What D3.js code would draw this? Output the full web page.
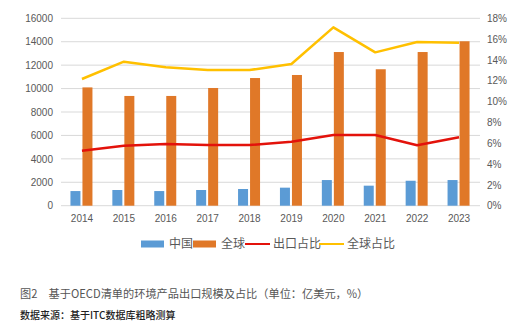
<!DOCTYPE html>
<html><head><meta charset="utf-8">
<script src="https://cdn.jsdelivr.net/npm/d3@7/dist/d3.min.js"></script>
<style>body{margin:0;background:#fff;}svg{display:block;}</style>
</head><body>
<svg id="c" width="524" height="334"></svg>
<script>
const years = ["2014","2015","2016","2017","2018","2019","2020","2021","2022","2023"];
const china = [1250,1340,1250,1340,1425,1540,2190,1710,2130,2190];
const world = [10100,9370,9370,10050,10900,11160,13120,11650,13120,14040];
const exportShare = [5.28,5.76,5.93,5.83,5.83,6.15,6.79,6.79,5.80,6.57];
const worldShare = [12.17,13.83,13.29,13.03,13.03,13.61,17.13,14.73,15.72,15.66];
const leftTicks = [0,2000,4000,6000,8000,10000,12000,14000,16000];
const rightTicks = [0,2,4,6,8,10,12,14,16,18];
const legendLabels = ["中国","全球","出口占比","全球占比"];
const caption = "图2　基于OECD清单的环境产品出口规模及占比（单位：亿美元，%）";
const source = "数据来源：基于ITC数据库粗略测算";

const colors = {china:"#5B9BD5", world:"#E07828", red:"#E3120B", yellow:"#FFC000"};
const svg = d3.select("#c");
const L=61, R=480, T=18.3, B=205.7;
const x = d3.scaleBand().domain(years).range([L,R]);
const yL = d3.scaleLinear().domain([0,16000]).range([B,T]);
const yR = d3.scaleLinear().domain([0,18]).range([B,T]);
const font = "'Liberation Sans', Arial, sans-serif";

// grid
svg.append("g").selectAll("line").data(leftTicks).join("line")
  .attr("x1",L).attr("x2",R).attr("y1",d=>yL(d)).attr("y2",d=>yL(d))
  .attr("stroke","#d9d9d9").attr("stroke-width",1);

// left axis
const gL = svg.append("g").attr("transform",`translate(${L-8},0)`)
  .call(d3.axisLeft(yL).tickValues(leftTicks).tickSize(0).tickPadding(0).tickFormat(d3.format("d")));
gL.select(".domain").remove();
gL.selectAll("text").attr("fill","#595959").style("font-family",font).style("font-size","10px");

const gR = svg.append("g").attr("transform",`translate(${R+7},0)`)
  .call(d3.axisRight(yR).tickValues(rightTicks).tickSize(0).tickPadding(0).tickFormat(d=>d+"%"));
gR.select(".domain").remove();
gR.selectAll("text").attr("fill","#595959").style("font-family",font).style("font-size","10px");

const gX = svg.append("g").attr("transform",`translate(0,${B+6})`)
  .call(d3.axisBottom(x).tickSize(0).tickPadding(3));
gX.select(".domain").remove();
gX.selectAll("text").attr("fill","#595959").style("font-family",font).style("font-size","10px");

// bars
const bw = 10, gap = 2;
svg.append("g").selectAll("rect").data(years).join("rect")
  .attr("x",d=>x(d)+x.bandwidth()/2-bw-gap/2-0.5).attr("width",bw)
  .attr("y",(d,i)=>yL(china[i])).attr("height",(d,i)=>B-yL(china[i]))
  .attr("fill",colors.china);
svg.append("g").selectAll("rect").data(years).join("rect")
  .attr("x",d=>x(d)+x.bandwidth()/2+gap/2-0.5).attr("width",bw)
  .attr("y",(d,i)=>yL(world[i])).attr("height",(d,i)=>B-yL(world[i]))
  .attr("fill",colors.world);

// lines
const cx = d=>x(d)+x.bandwidth()/2;
const line = arr => d3.line().x((d,i)=>cx(years[i])).y(d=>yR(d))(arr);
svg.append("path").attr("d",line(worldShare)).attr("fill","none")
  .attr("stroke",colors.yellow).attr("stroke-width",2.5).attr("stroke-linejoin","round");
svg.append("path").attr("d",line(exportShare)).attr("fill","none")
  .attr("stroke",colors.red).attr("stroke-width",2.5).attr("stroke-linejoin","round");

// legend
const cjk = "'Noto Sans CJK SC', sans-serif";
const lg = svg.append("g");
const items = [
  {t:"rect",c:colors.china,x:141,lab:legendLabels[0]},
  {t:"rect",c:colors.world,x:193,lab:legendLabels[1]},
  {t:"line",c:colors.red,x:245,lab:legendLabels[2]},
  {t:"line",c:colors.yellow,x:319,lab:legendLabels[3]},
];
const ly = 244;
items.forEach(it=>{
  if(it.t==="rect") lg.append("rect").attr("x",it.x).attr("y",ly-3.5).attr("width",23).attr("height",7).attr("fill",it.c);
  else lg.append("line").attr("x1",it.x).attr("x2",it.x+25).attr("y1",ly).attr("y2",ly).attr("stroke",it.c).attr("stroke-width",2);
  lg.append("text").attr("x",it.x+28).attr("y",ly).attr("dy","0.36em")
    .attr("fill","#595959").style("font-family",cjk).style("font-size","12px").text(it.lab);
});

svg.append("text").attr("x",20).attr("y",294).attr("dy","0.36em")
  .attr("fill","#555").style("font-family",cjk).style("font-size","11.2px").text(caption);
svg.append("text").attr("x",20).attr("y",315).attr("dy","0.36em")
  .attr("fill","#222").style("font-family",cjk).style("font-size","10px").style("font-weight","500").text(source);
</script>
</body></html>
